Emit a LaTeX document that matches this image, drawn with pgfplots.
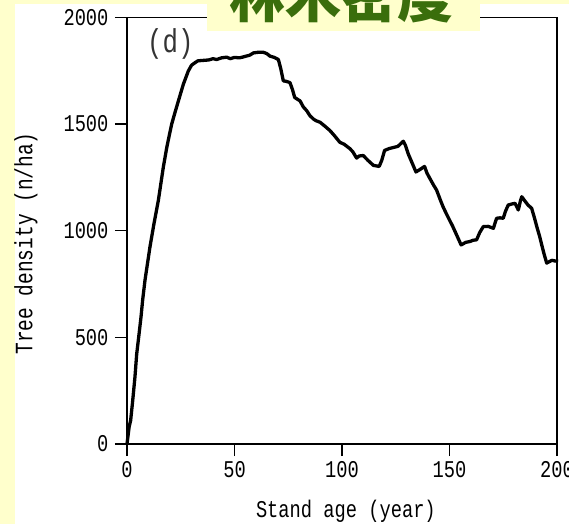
\documentclass[border=0pt]{standalone}
\usepackage{pgfplots}
\pgfplotsset{compat=1.18}
\usepackage{fontspec}
\newfontfamily\monofnt[FakeStretch=0.78]{Liberation Mono}
\newfontfamily\cjk{Noto Sans CJK JP}
\definecolor{paleyellow}{RGB}{255,255,204}
\definecolor{titlegreen}{RGB}{58,110,12}
\newcommand{\labfont}{\monofnt\fontsize{24}{24}\selectfont}
\newcommand{\ylfont}{\monofnt\fontsize{25}{25}\selectfont}
\newcommand{\dfont}{\monofnt\fontsize{33}{33}\selectfont}
\begin{document}
\begin{tikzpicture}[x=1pt,y=1pt]
\useasboundingbox (0,0) rectangle (569,524);
\fill[paleyellow] (0,0) rectangle (569,524);
\fill[white] (15,0) rectangle (569,520);
\begin{axis}[
  at={(127pt,80pt)}, anchor=south west,
  x=2.15pt, y=0.21335pt,
  xmin=0, xmax=200, ymin=0, ymax=2000,
  scale only axis,
  axis line style={line width=1.4pt, black},
  xtick={0,50,100,150,200},
  ytick={0,500,1000,1500,2000},
  tick style={line width=1.4pt, black},
  major tick length=12pt,
  tick align=outside,
  xtick pos=bottom, ytick pos=left,
  /pgf/number format/assume math mode=true,
  /pgf/number format/1000 sep={},
  ticklabel style={font=\labfont},
  xticklabel style={yshift=-2pt},
  yticklabel style={xshift=-3pt},
  xlabel={Stand age (year)},
  ylabel={Tree density (n/ha)},
  xlabel style={font=\labfont, at={(axis description cs:0.509,-0.157)}, anchor=center},
  ylabel style={font=\ylfont, at={(axis description cs:-0.235,0.47)}, anchor=center, rotate=0},
  clip=false,
]
\addplot[black, line width=3.3pt, line join=round] coordinates {
(0,0) (0.5,40) (1,80) (1.7,111) (2.6,198) (3.7,314) (4.5,421) (5.7,524) (6.5,594) (7.3,677)
(8.4,770) (10.7,925) (12.5,1030) (14.6,1143) (16.9,1298) (18.5,1390) (19.8,1453) (20.8,1500)
(22.5,1560) (23.9,1608) (26.2,1686) (28.5,1748) (30,1775) (31.6,1787) (33,1796) (35.5,1798)
(38,1800) (40,1806) (41.7,1802) (44,1810) (46.4,1813) (48,1806) (50,1812) (52.3,1810)
(54,1814) (55.4,1818) (57,1822) (58.8,1833) (61,1836) (63.4,1836) (65,1830) (66.5,1818)
(68.5,1812) (70.4,1802) (71.5,1760) (72.7,1702) (74,1700) (75.8,1694) (77,1660) (78,1624)
(80.5,1608) (82,1580) (83.6,1562) (85,1540) (86.7,1523) (88,1515) (89.8,1508) (92,1490)
(94.4,1469) (96.5,1445) (99,1414) (101,1405) (103.7,1384) (105,1370) (106.8,1340) (108,1350)
(109.9,1352) (112,1330) (114.6,1306) (117.3,1301) (118.5,1330) (119.8,1376) (122,1385)
(124.4,1391) (126,1395) (128.5,1419) (129.5,1400) (130.8,1360) (132.5,1320) (134.4,1275)
(136,1285) (138.4,1301) (139.5,1270) (140.9,1244) (142.5,1215) (144,1190) (145.5,1150)
(147,1112) (148.5,1080) (150,1050) (151.5,1020) (153.3,980) (155.4,933) (157.5,945)
(159.5,949) (161,955) (162.6,957) (164,990) (165.7,1019) (168,1020) (170.4,1011)
(171.9,1058) (173.5,1060) (175,1058) (176,1090) (177.3,1120) (179,1125) (180.5,1128)
(182,1097) (183,1140) (183.6,1159) (185,1140) (186.5,1120) (188.2,1105) (189.5,1060)
(190.6,1019) (192,970) (192.9,933) (194,890) (195.2,848) (196.5,855) (197.6,861)
(199,858) (200.5,856)
};
\node[anchor=north west, inner sep=0pt, font=\dfont, black!80] at (axis description cs:0.0465,0.975) {(d)};
\end{axis}
\fill[paleyellow] (207,493) rectangle (480,524);
\node[anchor=base, inner sep=0pt, text=titlegreen, font=\cjk\bfseries\fontsize{56}{56}\selectfont] at (341,506) {林木密度};
\end{tikzpicture}
\end{document}
